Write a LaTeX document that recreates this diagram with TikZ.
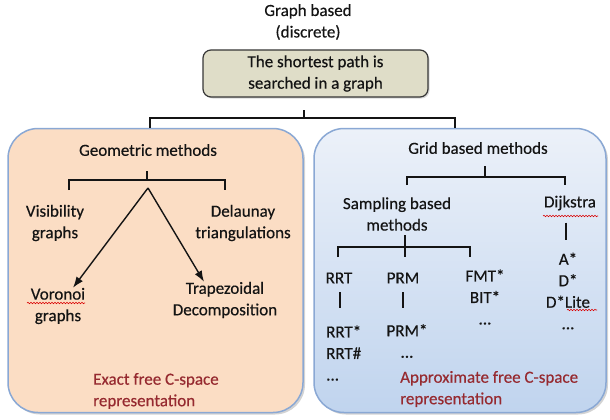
\documentclass[tikz,border=0pt]{standalone}
\usepackage{fontspec}
\setmainfont{Carlito}[FakeBold=0.4]
\usetikzlibrary{arrows.meta,shadows,decorations.pathmorphing}

\definecolor{boxtan}{RGB}{223,221,200}
\definecolor{peach}{RGB}{251,221,196}
\definecolor{skytop}{RGB}{236,241,249}
\definecolor{skybot}{RGB}{192,212,238}
\definecolor{rimblue}{RGB}{138,168,212}
\definecolor{darkred}{RGB}{150,42,48}
\definecolor{ink}{RGB}{20,20,20}

\tikzset{
  lbl/.style={text=ink, font=\fontsize{17}{21.5}\selectfont, align=center, inner sep=0pt},
  note/.style={lbl, text=darkred, align=left, anchor=west},
  region/.style={draw=rimblue, line width=1.5pt, rounded corners=30pt,
    minimum height=284, drop shadow={opacity=0.35, shadow xshift=2pt, shadow yshift=-2pt}},
  wire/.style={draw=ink, line width=1.4pt},
  arr/.style={wire, -{Latex[length=11pt,width=8pt]}},
  squiggle/.style={red!85!black, line width=0.6pt, decorate,
    decoration={snake, amplitude=0.7pt, segment length=3pt}}
}

\begin{document}
\begin{tikzpicture}[x=1pt, y=-1pt]
  \useasboundingbox (0,0) rectangle (610,420);

  % the two big areas
  \node[region, fill=peach, minimum width=295] (exact) at (155.5,270.5) {};
  \node[region, top color=skytop, bottom color=skybot, minimum width=292] (approx) at (460,270.5) {};

  % header
  \node[lbl] (graph) at (308,22) {Graph based\\(discrete)};
  \node[lbl, draw=ink!85, line width=1.2pt, fill=boxtan, rounded corners=8pt,
    minimum width=225, minimum height=47,
    drop shadow={opacity=0.3, shadow xshift=1.5pt, shadow yshift=-1.5pt}] (search) at (315.5,73.5)
    {The shortest path is\\searched in a graph};

  % bracket splitting into both areas
  \coordinate (split) at (304,118);
  \draw[wire] (exact.north -| 150,0) -- (150,118) -- (455,118) -- (approx.north -| 455,0);
  \draw[wire] (split) -- ++(0,-8);

  % left area
  \node[lbl] (geo) at (148,150) {Geometric methods};
  \node[lbl] (vis) at (55,223) {Visibility\\graphs};
  \node[lbl] (del) at (243,223) {Delaunay\\triangulations};
  \node[lbl] (vor) at (58,306) {Voronoi\\graphs};
  \node[lbl] (trap) at (225,300) {Trapezoidal\\Decomposition};
  \node[note] (exactnote) at (93,391) {Exact free C-space\\representation};

  \coordinate (fork) at (148,188);
  \draw[wire] (69,190) -- (69,180) -- (225,180) -- (225,190);
  \draw[wire] (147,180) -- (147,171);
  \draw[arr] (fork) -- (vor.north -| 73,0);
  \draw[arr] (fork) -- (trap.north -| 204,0);
  \draw[squiggle] (27,303) -- (85,303);

  % right area
  \node[lbl] (grid) at (478,148) {Grid based methods};
  \node[lbl] (samp) at (397,214) {Sampling based\\methods};
  \node[lbl] (dij) at (570,203) {Dijkstra};
  \node[lbl] (astar) at (568,291) {A*\\D*\\D*Lite\\...};
  \node[lbl] (rrt) at (339,278) {RRT};
  \node[lbl] (prm) at (403,278) {PRM};
  \node[lbl] (fmt) at (485,297) {FMT*\\BIT*\\...};
  \node[lbl, align=left, anchor=west] (rrtstar) at (326,353) {RRT*\\RRT\#\\...};
  \node[lbl] (prmstar) at (407,341) {PRM*\\...};
  \node[note] (approxnote) at (400,389) {Approximate free C-space\\representation};

  \draw[wire] (407,185) -- (407,177) -- (565,177) -- (565,185);
  \draw[wire] (485,177) -- (485,166);
  \draw[wire] (338,257) -- (338,247) -- (470,247) -- (470,257);
  \draw[wire] (405,235) -- (405,257);
  \draw[wire] (dij.south -| 566,0) ++(0,12) -- (566,240);
  \draw[wire] (340,292) -- (340,308);
  \draw[wire] (403,292) -- (403,308);
  \draw[squiggle] (543,216) -- (598,216);
  \draw[squiggle] (567,310) -- (597,310);
\end{tikzpicture}
\end{document}
